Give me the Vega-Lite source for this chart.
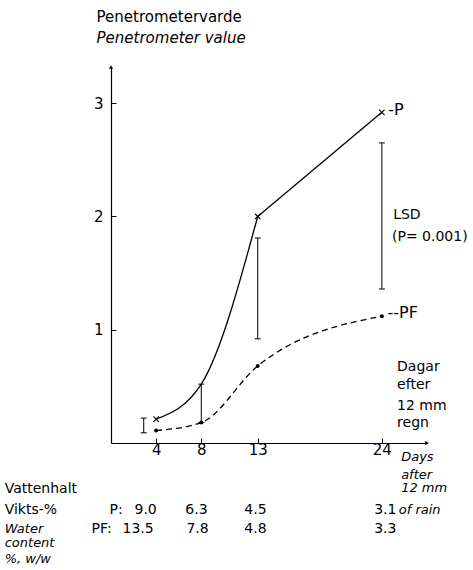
{
  "$schema": "https://vega.github.io/schema/vega-lite/v6.json",
  "autosize": "none",
  "width": 316,
  "height": 376,
  "padding": {"left": 111, "top": 67, "right": 46, "bottom": 127},
  "background": "white",
  "config": {
    "view": {"stroke": null},
    "font": "DejaVu Sans",
    "axis": {
      "domainColor": "black",
      "domainWidth": 1.2,
      "tickColor": "black",
      "tickSize": -5,
      "labelColor": "black",
      "labelFont": "DejaVu Sans",
      "labelFontSize": 15,
      "grid": false,
      "title": null
    }
  },
  "datasets": {
    "curves": [
      {"series": "P1", "x": 4, "y": 0.21},
      {"series": "P1", "x": 8, "y": 0.52},
      {"series": "P1", "x": 13, "y": 2.0},
      {"series": "P2", "x": 13, "y": 2.0},
      {"series": "P2", "x": 24, "y": 2.92},
      {"series": "PF", "x": 4, "y": 0.11},
      {"series": "PF", "x": 8, "y": 0.18},
      {"series": "PF", "x": 13, "y": 0.68},
      {"series": "PF", "x": 24, "y": 1.12}
    ],
    "markers": [
      {"kind": "P", "x": 4, "y": 0.21},
      {"kind": "P", "x": 13, "y": 2.0},
      {"kind": "P", "x": 24, "y": 2.92},
      {"kind": "PF", "x": 4, "y": 0.11},
      {"kind": "PF", "x": 8, "y": 0.18},
      {"kind": "PF", "x": 13, "y": 0.68},
      {"kind": "PF", "x": 24, "y": 1.12}
    ],
    "lsd": [
      {"x": 2.9, "y": 0.09, "y2": 0.22},
      {"x": 8, "y": 0.18, "y2": 0.52},
      {"x": 13, "y": 0.92, "y2": 1.81},
      {"x": 24, "y": 1.36, "y2": 2.65}
    ],
    "arrows": [
      {"x": 0, "y": 3.32, "shape": "triangle-up"},
      {"x": 28, "y": 0, "shape": "triangle-right"}
    ],
    "labels": [
      {"x": -1.28, "y": 3.76, "text": "Penetrometervarde", "role": "title-sv"},
      {"x": -1.28, "y": 3.58, "text": "Penetrometer value", "role": "title-en"},
      {"x": 24.56, "y": 2.94, "text": "-P", "role": "series"},
      {"x": 24.5, "y": 1.15, "text": "--PF", "role": "series"},
      {"x": 25.0, "y": 2.01, "text": "LSD", "role": "lsd"},
      {"x": 24.9, "y": 1.82, "text": "(P= 0.001)", "role": "lsd"},
      {"x": 25.35, "y": 0.667, "text": "Dagar", "role": "note-sv"},
      {"x": 25.35, "y": 0.508, "text": "efter", "role": "note-sv"},
      {"x": 25.35, "y": 0.331, "text": "12 mm", "role": "note-sv"},
      {"x": 25.35, "y": 0.181, "text": "regn", "role": "note-sv"},
      {"x": 25.71, "y": -0.128, "text": "Days", "role": "note-en"},
      {"x": 25.71, "y": -0.28, "text": "after", "role": "note-en"},
      {"x": 25.71, "y": -0.40, "text": "12 mm", "role": "note-en"},
      {"x": 25.5, "y": -0.596, "text": "of rain", "role": "note-en"},
      {"x": -9.42, "y": -0.41, "text": "Vattenhalt", "role": "table-sv"},
      {"x": -9.42, "y": -0.596, "text": "Vikts-%", "role": "table-sv"},
      {"x": -0.13, "y": -0.596, "text": "P:", "role": "table-sv"},
      {"x": 2.08, "y": -0.596, "text": "9.0", "role": "table-sv"},
      {"x": 6.59, "y": -0.596, "text": "6.3", "role": "table-sv"},
      {"x": 11.81, "y": -0.596, "text": "4.5", "role": "table-sv"},
      {"x": 23.32, "y": -0.596, "text": "3.1", "role": "table-sv"},
      {"x": -9.42, "y": -0.76, "text": "Water", "role": "table-en"},
      {"x": -1.73, "y": -0.76, "text": "PF:", "role": "table-sv"},
      {"x": 1.02, "y": -0.76, "text": "13.5", "role": "table-sv"},
      {"x": 6.68, "y": -0.76, "text": "7.8", "role": "table-sv"},
      {"x": 11.81, "y": -0.76, "text": "4.8", "role": "table-sv"},
      {"x": 23.32, "y": -0.76, "text": "3.3", "role": "table-sv"},
      {"x": -9.42, "y": -0.885, "text": "content", "role": "table-en"},
      {"x": -9.42, "y": -1.02, "text": "%, w/w", "role": "table-en"}
    ]
  },
  "encoding": {
    "x": {"field": "x", "type": "quantitative", "scale": {"domain": [0, 28], "nice": false, "zero": false},
          "axis": {"values": [4, 8, 13, 24], "labelPadding": 4, "orient": "bottom"}},
    "y": {"field": "y", "type": "quantitative", "scale": {"domain": [0, 3.32], "nice": false, "zero": false},
          "axis": {"values": [1, 2, 3], "labelPadding": 13, "orient": "left"}}
  },
  "layer": [
    {
      "data": {"name": "curves"},
      "transform": [{"filter": "datum.series === 'P1'"}],
      "mark": {"type": "line", "interpolate": "monotone", "color": "black", "strokeWidth": 1.3}
    },
    {
      "data": {"name": "curves"},
      "transform": [{"filter": "datum.series === 'P2'"}],
      "mark": {"type": "line", "color": "black", "strokeWidth": 1.3}
    },
    {
      "data": {"name": "curves"},
      "transform": [{"filter": "datum.series === 'PF'"}],
      "mark": {"type": "line", "interpolate": "monotone", "color": "black", "strokeWidth": 1.3, "strokeDash": [6, 4]}
    },
    {
      "data": {"name": "markers"},
      "transform": [{"filter": "datum.kind === 'P'"}],
      "mark": {"type": "point", "shape": "M-1,-1L1,1M-1,1L1,-1", "filled": false, "color": "black", "strokeWidth": 1.1, "size": 30, "opacity": 1}
    },
    {
      "data": {"name": "markers"},
      "transform": [{"filter": "datum.kind === 'PF'"}],
      "mark": {"type": "circle", "color": "black", "size": 16, "opacity": 1}
    },
    {
      "data": {"name": "lsd"},
      "mark": {"type": "rule", "color": "black", "strokeWidth": 1},
      "encoding": {"y2": {"field": "y2"}}
    },
    {
      "data": {"name": "lsd"},
      "mark": {"type": "tick", "orient": "horizontal", "size": 6, "thickness": 1, "color": "black", "opacity": 1}
    },
    {
      "data": {"name": "lsd"},
      "mark": {"type": "tick", "orient": "horizontal", "size": 6, "thickness": 1, "color": "black", "opacity": 1},
      "encoding": {"y": {"field": "y2", "type": "quantitative"}}
    },
    {
      "data": {"name": "arrows"},
      "mark": {"type": "point", "filled": true, "color": "black", "size": 18, "opacity": 1},
      "encoding": {"shape": {"field": "shape", "type": "nominal", "scale": null}}
    },
    {
      "data": {"name": "labels"},
      "transform": [{"filter": "datum.role === 'title-sv'"}],
      "mark": {"type": "text", "align": "left", "baseline": "middle", "fontSize": 15, "color": "black", "font": "DejaVu Sans"},
      "encoding": {"text": {"field": "text"}}
    },
    {
      "data": {"name": "labels"},
      "transform": [{"filter": "datum.role === 'table-sv'"}],
      "mark": {"type": "text", "align": "left", "baseline": "middle", "fontSize": 14, "color": "black", "font": "DejaVu Sans"},
      "encoding": {"text": {"field": "text"}}
    },
    {
      "data": {"name": "labels"},
      "transform": [{"filter": "datum.role === 'title-en'"}],
      "mark": {"type": "text", "align": "left", "baseline": "middle", "fontSize": 15, "fontStyle": "italic", "color": "black", "font": "DejaVu Sans"},
      "encoding": {"text": {"field": "text"}}
    },
    {
      "data": {"name": "labels"},
      "transform": [{"filter": "datum.role === 'series'"}],
      "mark": {"type": "text", "align": "left", "baseline": "middle", "fontSize": 16, "color": "black", "font": "DejaVu Sans"},
      "encoding": {"text": {"field": "text"}}
    },
    {
      "data": {"name": "labels"},
      "transform": [{"filter": "datum.role === 'lsd' || datum.role === 'note-sv'"}],
      "mark": {"type": "text", "align": "left", "baseline": "middle", "fontSize": 14, "color": "black", "font": "DejaVu Sans"},
      "encoding": {"text": {"field": "text"}}
    },
    {
      "data": {"name": "labels"},
      "transform": [{"filter": "datum.role === 'note-en' || datum.role === 'table-en'"}],
      "mark": {"type": "text", "align": "left", "baseline": "middle", "fontSize": 13, "fontStyle": "italic", "color": "black", "font": "DejaVu Sans"},
      "encoding": {"text": {"field": "text"}}
    }
  ]
}
